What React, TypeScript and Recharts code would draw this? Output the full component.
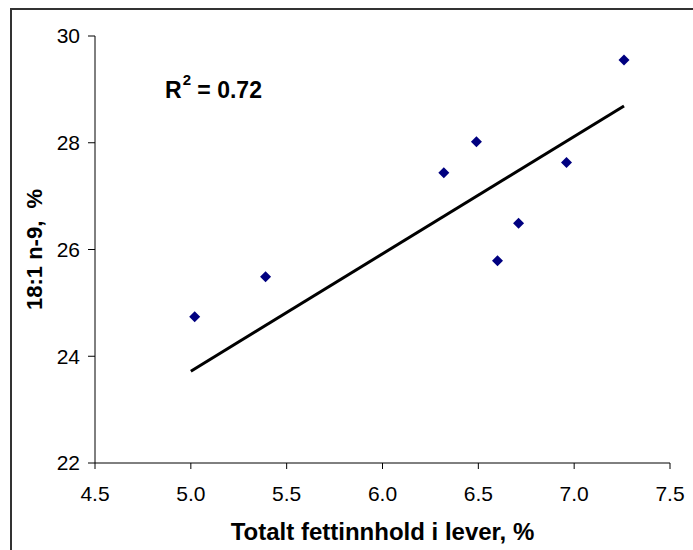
import { ScatterChart, Scatter, XAxis, YAxis } from 'recharts';

// values
const fatPct = [5.02, 5.39, 6.32, 6.49, 6.6, 6.71, 6.96, 7.26];
const oleicPct = [24.74, 25.49, 27.44, 28.02, 25.79, 26.49, 27.63, 29.55];
const trendX = [5.0, 7.26];
const trendY = [23.72, 28.69];
const xTicks = [4.5, 5.0, 5.5, 6.0, 6.5, 7.0, 7.5];
const yTicks = [22, 24, 26, 28, 30];

const points = fatPct.map((x, i) => ({ x, y: oleicPct[i] }));
const trend = trendX.map((x, i) => ({ x, y: trendY[i] }));

const FONT = '"Liberation Sans", Arial, Helvetica, sans-serif';

const Diamond = (props: any) => {
  const { cx, cy } = props;
  const r = 5.5;
  return (
    <path
      d={`M${cx},${cy - r}L${cx + r},${cy}L${cx},${cy + r}L${cx - r},${cy}Z`}
      fill="#000080"
    />
  );
};

const NoDot = () => <g />;

export default function App() {
  return (
    <div
      style={{
        position: 'absolute',
        left: 0,
        top: 0,
        width: 693,
        height: 550,
        overflow: 'hidden',
        background: '#fff',
        fontFamily: FONT,
      }}
    >
      <div
        style={{
          position: 'absolute',
          left: 10,
          top: 8,
          width: 720,
          height: 600,
          border: '2px solid #333',
        }}
      />
      <ScatterChart
        width={693}
        height={550}
        margin={{ top: 36, right: 23, bottom: 0, left: 0 }}
        style={{ position: 'absolute', left: 0, top: 0 }}
      >
        <XAxis
          type="number"
          dataKey="x"
          domain={[4.5, 7.5]}
          ticks={xTicks}
          tickFormatter={(v: number) => v.toFixed(1)}
          height={87}
          stroke="#000"
          tickSize={6}
          tickMargin={17}
          tick={{ fill: '#000', fontSize: 21, fontFamily: FONT }}
          label={{
            value: 'Totalt fettinnhold i lever, %',
            position: 'insideBottom',
            offset: 10,
            style: { fill: '#000', fontSize: 24, fontWeight: 'bold', fontFamily: FONT },
          }}
        />
        <YAxis
          type="number"
          dataKey="y"
          domain={[22, 30]}
          ticks={yTicks}
          width={95}
          stroke="#000"
          tickSize={7}
          tickMargin={8}
          tick={{ fill: '#000', fontSize: 21, fontFamily: FONT }}
          label={{
            value: '18:1 n-9,\u00a0\u00a0%',
            angle: -90,
            position: 'insideLeft',
            offset: 34,
            style: {
              fill: '#000',
              fontSize: 22,
              fontWeight: 'bold',
              fontFamily: FONT,
              textAnchor: 'middle',
            },
          }}
        />
        <Scatter
          data={trend}
          line={{ stroke: '#000', strokeWidth: 3 }}
          shape={<NoDot />}
          isAnimationActive={false}
        />
        <Scatter data={points} shape={<Diamond />} isAnimationActive={false} />
      </ScatterChart>
      <div
        style={{
          position: 'absolute',
          left: 165,
          top: 79,
          fontSize: 23,
          lineHeight: '23px',
          fontWeight: 'bold',
          whiteSpace: 'nowrap',
          color: '#000',
        }}
      >
        R
        <span style={{ fontSize: 15, position: 'relative', top: -13, marginLeft: 1 }}>2</span>
        {' = 0.72'}
      </div>
    </div>
  );
}
